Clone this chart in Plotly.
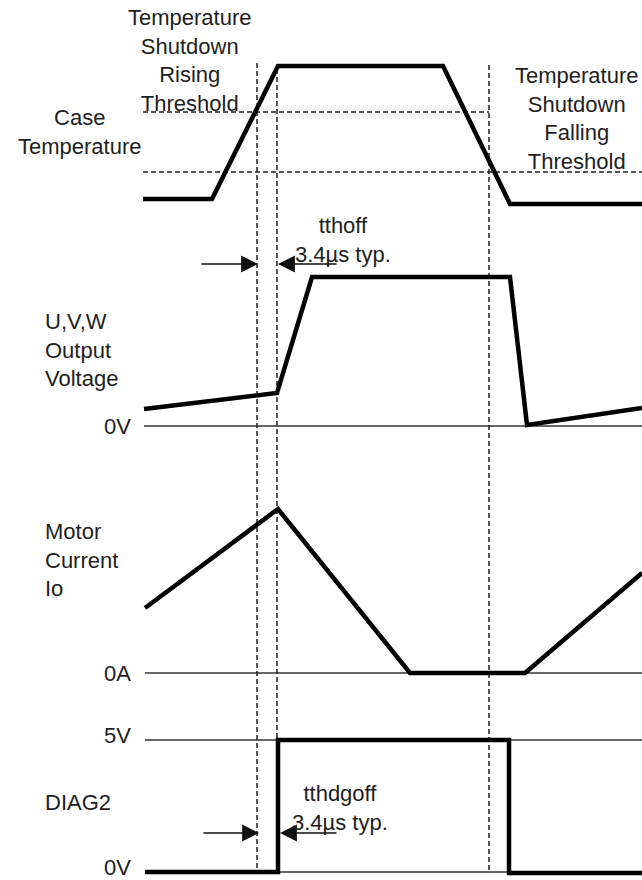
import plotly.graph_objects as go

# ---- data (diagram coordinates: x = time axis, y = vertical position, downward) ----
case_temp_t = [143, 212, 278, 443, 510, 642]
case_temp_v = [199, 199, 66, 66, 204, 204]

out_volt_t = [144, 277, 312, 510, 527, 642]
out_volt_v = [409, 393, 277, 277, 425, 408]

motor_cur_t = [145, 278, 410, 525, 642]
motor_cur_v = [608, 509, 673, 673, 573]

diag2_t = [145, 278, 278, 509, 509, 642]
diag2_v = [872, 872, 740, 740, 873, 873]

# reference levels (thin lines)
ref_levels = [426, 673, 740, 872]
ref_start = [144, 145, 145, 145]
ref_labels = ["0V", "0A", "5V", "0V"]
ref_label_y = [426, 673, 735, 867]

# thresholds (dashed horizontal)
thr_levels = [112, 172]
thr_end = [489, 642]

# event markers (dashed vertical)
event_t = [257, 277, 489]
event_top = [63, 69, 65]
event_bottom = [870, 740, 870]

# timing arrows
arrow_y = [264, 833]
arrow_left_tail = [200, 202]
arrow_left_head = [258, 259]
arrow_right_tail = [338, 338]
arrow_right_head = [278, 280]
arrow_text = ["tthoff<br>3.4µs typ.", "tthdgoff<br>3.4µs typ."]
arrow_text_x = [343, 340]
arrow_text_y = [240, 808]

FONT = "Liberation Sans, Arial, sans-serif"
TXT = "#1e1e1e"

fig = go.Figure()

# thin reference lines
for lv, st in zip(ref_levels, ref_start):
    fig.add_trace(go.Scatter(x=[st, 642], y=[lv, lv], mode="lines",
                             line=dict(color="#333333", width=1.5), hoverinfo="skip"))

# dashed thresholds
for lv, en in zip(thr_levels, thr_end):
    fig.add_trace(go.Scatter(x=[143, en], y=[lv, lv], mode="lines",
                             line=dict(color="#222222", width=1.5, dash="5px,3px"), hoverinfo="skip"))

# dashed verticals
for t, top, bot in zip(event_t, event_top, event_bottom):
    fig.add_trace(go.Scatter(x=[t, t], y=[top, bot], mode="lines",
                             line=dict(color="#222222", width=1.5, dash="5px,3px"), hoverinfo="skip"))

# waveforms
for tt, vv in [(case_temp_t, case_temp_v), (out_volt_t, out_volt_v),
               (motor_cur_t, motor_cur_v), (diag2_t, diag2_v)]:
    fig.add_trace(go.Scatter(x=tt, y=vv, mode="lines",
                             line=dict(color="#000000", width=4.5), hoverinfo="skip"))

ann = []
# arrows
for i in range(len(arrow_y)):
    for tail, head in [(arrow_left_tail[i], arrow_left_head[i]), (arrow_right_tail[i], arrow_right_head[i])]:
        ann.append(dict(x=head, y=arrow_y[i], ax=tail, ay=arrow_y[i], xref="x", yref="y",
                        axref="x", ayref="y", showarrow=True, arrowhead=2, arrowsize=2.6,
                        arrowwidth=1.3, arrowcolor="#111111", text=""))
    ann.append(dict(x=arrow_text_x[i], y=arrow_text_y[i], text=arrow_text[i], showarrow=False,
                    xanchor="center", yanchor="middle", font=dict(family=FONT, size=22, color=TXT)))

# level labels
for lab, ly in zip(ref_labels, ref_label_y):
    ann.append(dict(x=133, y=ly, text=lab, showarrow=False, xanchor="right", yanchor="middle",
                    font=dict(family=FONT, size=22, color=TXT)))

# signal names and threshold labels
texts = [
    ("Temperature<br>Shutdown<br>Rising<br>Threshold", 190, 60, "center"),
    ("Temperature<br>Shutdown<br>Falling<br>Threshold", 577, 118, "center"),
    ("Case<br>Temperature", 80, 132, "center"),
    ("U,V,W<br>Output<br>Voltage", 43, 350, "left"),
    ("Motor<br>Current<br>Io", 43, 560, "left"),
    ("DIAG2", 43, 802, "left"),
]
for txt, x, y, xa in texts:
    ann.append(dict(x=x, y=y, text=txt, showarrow=False, xanchor=xa, yanchor="middle",
                    align=xa, font=dict(family=FONT, size=22, color=TXT)))

fig.update_layout(
    width=642, height=880,
    margin=dict(l=0, r=0, t=0, b=0),
    paper_bgcolor="white", plot_bgcolor="white",
    showlegend=False,
    xaxis=dict(range=[0, 642], visible=False, fixedrange=True),
    yaxis=dict(range=[880, 0], visible=False, fixedrange=True),
    annotations=ann,
)

fig.write_html(
    "out.html",
    config={"displayModeBar": False},
    post_script="document.body.style.margin='0';document.body.style.overflow='hidden';",
)
